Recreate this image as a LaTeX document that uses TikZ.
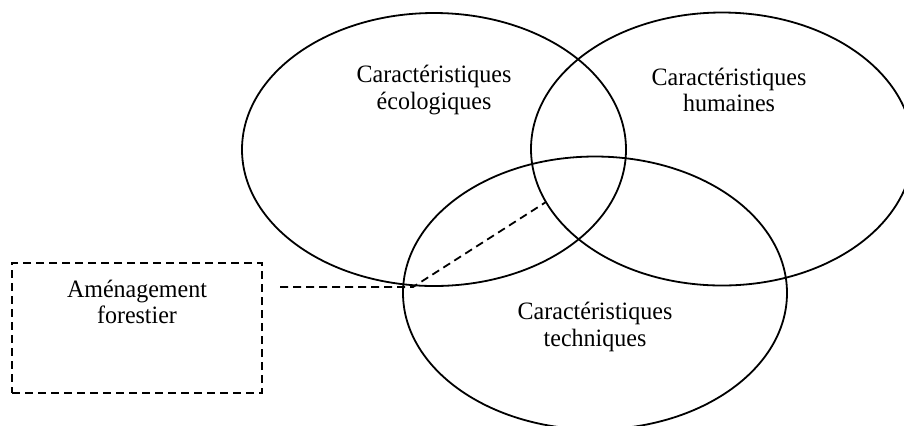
\documentclass[tikz,border=0pt]{standalone}
\usepackage{fontspec}
\setmainfont[FakeStretch=0.96]{Liberation Serif}
\usetikzlibrary{shapes.geometric}

\begin{document}
\begin{tikzpicture}[x=0.5pt, y=-0.5pt, line width=0.9pt,
        zone/.style={ellipse, draw, inner sep=0pt, minimum width=192pt, minimum height=136.5pt},
        titre/.style={align=center, inner sep=0pt, font=\fontsize{12.5}{13.2}\selectfont},
        tirets/.style={dash pattern=on 4pt off 2.5pt}]
        \useasboundingbox (0,0) rectangle (904,425);

        % Les trois ensembles
        \node[zone] (eco) at (434,149.5) {};
        \node[zone, minimum width=191pt] (hum) at (722,149) {};
        \node[zone] (tech) at (595,293) {};

        % Textes des ensembles
        \node[titre] (ecotxt) at (434,90) {Caractéristiques\\écologiques};
        \node[titre] (humtxt) at (729,90) {Caractéristiques\\humaines};
        \node[titre] (techtxt) at (595,327) {Caractéristiques\\techniques};

        % Cadre en tirets pour l'aménagement forestier
        \node[draw, tirets, minimum width=125pt, minimum height=65pt] (amenag) at (137,328) {};
        \node[titre] (amenagtxt) at (137,302) {Aménagement\\forestier};

        % Liaison vers l'intersection
        \coordinate (depart) at (280,287);
        \coordinate (coude) at (413,287);
        \coordinate (cible) at (546,202);
        \draw[tirets] (depart) -- (coude) -- (cible);

    \end{tikzpicture}
\end{document}
